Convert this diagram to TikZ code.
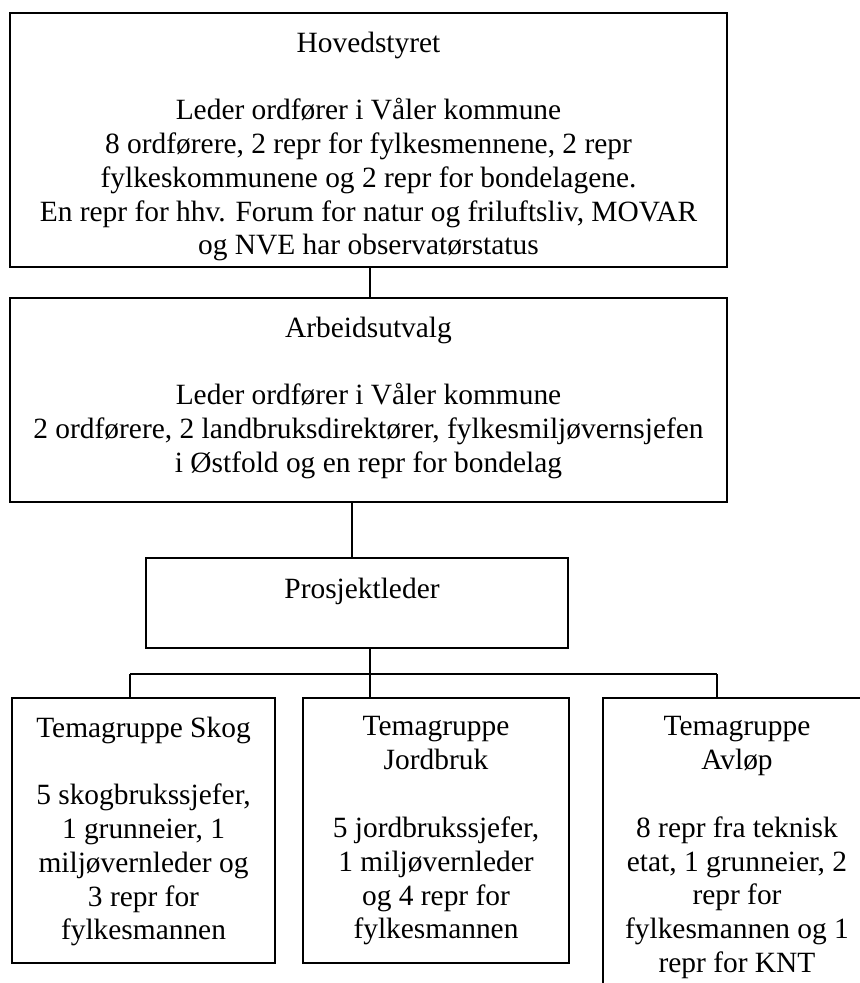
\documentclass[tikz,border=0pt]{standalone}
\usepackage{fontspec}
\setmainfont{Liberation Serif}
\newcommand{\px}{0.408pt}

\begin{document}
\begin{tikzpicture}[x=\px,y=-\px,line width=0.5pt,
  orgbox/.style={rectangle,draw,inner sep=0pt},
  orgtext/.style={anchor=north,inner sep=0pt,align=center,
    font=\fontsize{12}{13.8}\selectfont,execute at begin node=\strut}]
\useasboundingbox (0,0) rectangle (860,983);
\clip (0,0) rectangle (860,983);

% Boxes
\node[orgbox,minimum width=717*\px,minimum height=254*\px] (hoved) at (368.5,140) {};
\node[orgbox,minimum width=717*\px,minimum height=204*\px] (arbeid) at (368.5,400) {};
\node[orgbox,minimum width=422*\px,minimum height=90*\px] (prosj) at (357,603) {};
\node[orgbox,minimum width=263*\px,minimum height=265*\px] (skog) at (143.5,830.5) {};
\node[orgbox,minimum width=266*\px,minimum height=265*\px] (jord) at (436,830.5) {};
\node[orgbox,minimum width=268*\px,minimum height=320*\px] (avlop) at (737,858) {};

% Texts
\node[orgtext] (hovedtxt) at (368.5,31) {Hovedstyret\\[13.8pt]Leder ordfører i Våler kommune\\8 ordførere, 2 repr for fylkesmennene, 2 repr\\fylkeskommunene og 2 repr for bondelagene.\\En repr for hhv. Forum for natur og friluftsliv, MOVAR\\og NVE har observatørstatus};
\node[orgtext] (arbeidtxt) at (368.5,316) {Arbeidsutvalg\\[13.8pt]Leder ordfører i Våler kommune\\2 ordførere, 2 landbruksdirektører, fylkesmiljøvernsjefen\\i Østfold og en repr for bondelag};
\node[orgtext] (prosjtxt) at (362,574) {Prosjektleder};
\node[orgtext] (skogtxt) at (143.5,716) {Temagruppe Skog\\[13.8pt]5 skogbrukssjefer,\\1 grunneier, 1\\miljøvernleder og\\3 repr for\\fylkesmannen};
\node[orgtext] (jordtxt) at (436,716) {Temagruppe\\Jordbruk\\[13.8pt]5 jordbrukssjefer,\\1 miljøvernleder\\og 4 repr for\\fylkesmannen};
\node[orgtext] (avloptxt) at (737,716) {Temagruppe\\Avløp\\[13.8pt]8 repr fra teknisk\\etat, 1 grunneier, 2\\repr for\\fylkesmannen og 1\\repr for KNT};

% Connectors
\coordinate (a2p) at (352,500);
\coordinate (bus) at (370,674);
\coordinate (busL) at (130,674);
\coordinate (busR) at (717,674);
\draw (hoved.south -| bus) -- (arbeid.north -| bus);
\draw (arbeid.south -| a2p) -- (prosj.north -| a2p);
\draw (prosj.south -| bus) -- (bus);
\draw (busL) -- (busR);
\foreach \drop/\grp in {busL/skog,bus/jord,busR/avlop}
  \draw (\drop) -- (\grp.north -| \drop);
\end{tikzpicture}
\end{document}
